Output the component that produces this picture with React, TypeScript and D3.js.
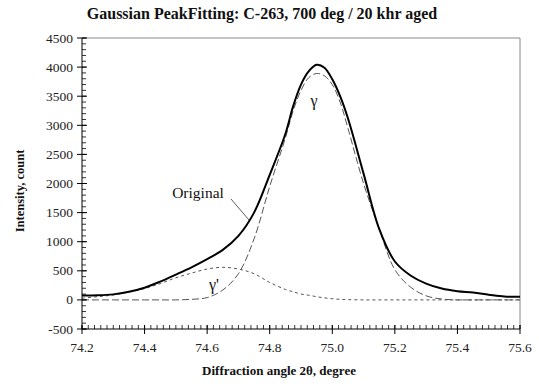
import React from 'react';
import * as d3 from 'd3';

// diffraction angle 2θ, degree
const angles = [74.2, 74.25, 74.3, 74.35, 74.4, 74.45, 74.5, 74.55, 74.6, 74.65, 74.7, 74.75, 74.8, 74.85, 74.875, 74.9, 74.925, 74.95, 74.975, 75.0, 75.025, 75.05, 75.1, 75.15, 75.2, 75.25, 75.3, 75.35, 75.4, 75.45, 75.5, 75.55, 75.6];
// measured pattern
const original = [75, 78, 95, 140, 210, 315, 435, 560, 700, 860, 1100, 1500, 2150, 2850, 3330, 3700, 3930, 4040, 3990, 3790, 3500, 3120, 2170, 1220, 660, 420, 280, 195, 150, 126, 90, 58, 52];
// fitted gamma peak
const gamma = [0, 0, 0, 0, 0, 0, 0, 10, 40, 170, 450, 1050, 1950, 2780, 3250, 3600, 3820, 3890, 3850, 3700, 3400, 2950, 2000, 1220, 520, 220, 70, 15, 0, 0, 0, 0, 0];
// fitted gamma' peak
const gammaPrime = [30, 55, 85, 135, 195, 280, 380, 460, 530, 560, 530, 450, 300, 180, 140, 100, 80, 55, 35, 20, 10, 5, 0, 0, 0, 0, 0, 0, 0, 0, 0, 0, 0];

const xTicks = [74.2, 74.4, 74.6, 74.8, 75.0, 75.2, 75.4, 75.6];
const yTicks = [-500, 0, 500, 1000, 1500, 2000, 2500, 3000, 3500, 4000, 4500];

const width = 539;
const height = 386;
const left = 82, right = 520, top = 38, bottom = 329;
const serif = '"Liberation Serif", "Times New Roman", serif';

export default function App() {
  const x = d3.scaleLinear().domain([74.2, 75.6]).range([left, right]);
  const y = d3.scaleLinear().domain([-500, 4500]).range([bottom, top]);

  const line = (vals: number[]) =>
    d3.line<number>()
      .x((_, i) => x(angles[i]))
      .y(d => y(d))
      .curve(d3.curveCatmullRom.alpha(0.5))(vals) || '';

  const yMinor = d3.range(-500, 4501, 100);
  const xMinor = d3.range(0, 71).map(i => 74.2 + i * 0.02);

  return (
    <svg width={width} height={height} style={{ position: 'absolute', left: 0, top: 0, background: '#fff' }}
      fontFamily={serif}>
      <text x={262} y={19} textAnchor="middle" fontSize={16} fontWeight="bold" fill="#111">
        Gaussian PeakFitting: C-263, 700 deg / 20 khr aged
      </text>

      {/* frame */}
      <line x1={left} x2={right} y1={top} y2={top} stroke="#888" />
      <line x1={right} x2={right} y1={top} y2={bottom} stroke="#888" />

      {/* curves */}
      <path d={line(gammaPrime)} fill="none" stroke="#555" strokeWidth={1} strokeDasharray="3,3" />
      <path d={line(gamma)} fill="none" stroke="#555" strokeWidth={1} strokeDasharray="7,3" />
      <path d={line(original)} fill="none" stroke="#000" strokeWidth={2} />

      {/* y axis */}
      <line x1={left} x2={left} y1={top} y2={bottom} stroke="#000" />
      {yMinor.map(v => (
        <line key={'ym' + v} x1={left} x2={left + 4} y1={y(v)} y2={y(v)} stroke="#000" strokeWidth={0.8} />
      ))}
      {yTicks.map(v => (
        <g key={'y' + v}>
          <line x1={left - 5} x2={left + 5} y1={y(v)} y2={y(v)} stroke="#000" />
          <text x={left - 9} y={y(v) + 4.5} textAnchor="end" fontSize={13.5} fill="#222">{v}</text>
        </g>
      ))}

      {/* x axis */}
      <line x1={left} x2={right} y1={bottom} y2={bottom} stroke="#000" />
      {xMinor.map((v, i) => (
        <line key={'xm' + i} x1={x(v)} x2={x(v)} y1={bottom} y2={bottom - 4} stroke="#000" strokeWidth={0.8} />
      ))}
      {xTicks.map(v => (
        <g key={'x' + v}>
          <line x1={x(v)} x2={x(v)} y1={bottom - 4} y2={bottom + 5} stroke="#000" />
          <text x={x(v)} y={bottom + 23} textAnchor="middle" fontSize={13.5} fill="#222">{v.toFixed(1)}</text>
        </g>
      ))}

      {/* labels */}
      <text x={198} y={198} textAnchor="middle" fontSize={15.5} fill="#111">Original</text>
      <line x1={231} x2={249} y1={199} y2={220} stroke="#333" strokeWidth={0.8} />
      <text x={314} y={106} textAnchor="middle" fontSize={16} fill="#111">γ</text>
      <text x={214} y={290} textAnchor="middle" fontSize={16} fill="#111">γ'</text>

      <text x={279} y={375} textAnchor="middle" fontSize={13} fontWeight="bold" fill="#111">
        Diffraction angle 2θ, degree
      </text>
      <text transform={`translate(24,191) rotate(-90)`} textAnchor="middle" fontSize={12.5}
        fontWeight="bold" fill="#111">Intensity, count</text>
    </svg>
  );
}
